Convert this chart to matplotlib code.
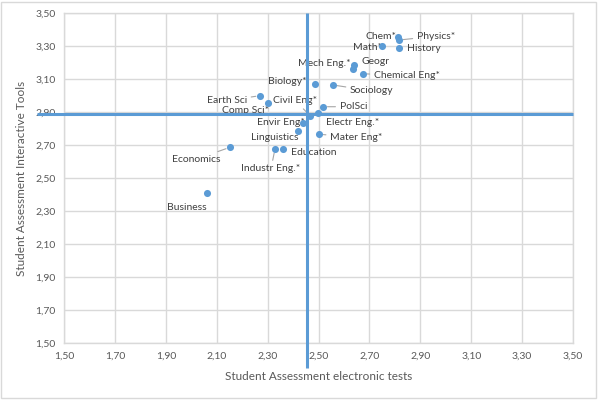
import matplotlib
matplotlib.use("Agg")
import matplotlib.pyplot as plt
from matplotlib.patches import Rectangle

# ---- data ----
subjects = ["Chem*", "Physics*", "Math*", "History", "Mech Eng.*", "Geogr",
            "Chemical Eng*", "Biology*", "Sociology", "Earth Sci", "Civil Eng*",
            "Comp Sci*", "PolSci", "Envir Eng*", "Electr Eng.*", "Linguistics",
            "Mater Eng*", "Education", "Industr Eng.*", "Economics", "Business"]
electronic_tests = [2.814, 2.816, 2.748, 2.815, 2.634, 2.639,
                    2.674, 2.487, 2.556, 2.270, 2.467,
                    2.302, 2.519, 2.440, 2.499, 2.421,
                    2.503, 2.359, 2.329, 2.152, 2.063]
interactive_tools = [3.353, 3.336, 3.300, 3.286, 3.161, 3.185,
                     3.132, 3.068, 3.064, 2.999, 2.878,
                     2.953, 2.932, 2.832, 2.891, 2.785,
                     2.765, 2.676, 2.676, 2.686, 2.411]
mean_electronic = 2.456
mean_interactive = 2.890
tick_values = [1.50, 1.70, 1.90, 2.10, 2.30, 2.50, 2.70, 2.90, 3.10, 3.30, 3.50]
tick_labels = ["1,50", "1,70", "1,90", "2,10", "2,30", "2,50",
               "2,70", "2,90", "3,10", "3,30", "3,50"]

# ---- label layout (pixel offsets from the point, image y downward) ----
label_offsets = {
    "Chem*": (-17, -1, False), "Physics*": (37, -4, True), "Math*": (-14, 1, False),
    "History": (25, 0, False), "Mech Eng.*": (-28, -5, False), "Geogr": (22, -3, False),
    "Chemical Eng*": (44, 2, True), "Biology*": (-28, -3, False), "Sociology": (39, 6, True),
    "Earth Sci": (-33, 5, True), "Civil Eng*": (-15, -15, True), "Comp Sci*": (-23, 7, False),
    "PolSci": (30, 0, True), "Envir Eng*": (-22, -1, False), "Electr Eng.*": (34, 9, True),
    "Linguistics": (-24, 7, False), "Mater Eng*": (37, 3, True), "Education": (31, 4, False),
    "Industr Eng.*": (-4, 20, True), "Economics": (-34, 12, True), "Business": (-20, 15, False),
}

blue = "#5B9BD5"
grid_c = "#D9D9D9"
text_c = "#595959"
label_c = "#404040"

plt.rcParams["font.family"] = ["Lato", "DejaVu Sans"]

fig = plt.figure(figsize=(5.98, 4.0), dpi=100)
fig.patches.append(Rectangle((0.002, 0.004), 0.994, 0.992, transform=fig.transFigure,
                             fill=False, edgecolor=grid_c, lw=1.0))
ax = fig.add_axes([64 / 598, 57 / 400, 509 / 598, 330 / 400])
ax.set_xlim(1.5, 3.5)
ax.set_ylim(1.5, 3.5)
ax.set_xticks(tick_values)
ax.set_xticklabels(tick_labels)
ax.set_yticks(tick_values)
ax.set_yticklabels(tick_labels)
ax.grid(True, color=grid_c, lw=1.0, zorder=0)
ax.set_axisbelow(True)
for s in ax.spines.values():
    s.set_color(grid_c)
    s.set_linewidth(1.0)
ax.tick_params(length=0, labelsize=7.5, labelcolor=text_c, pad=6)
ax.set_xlabel("Student Assessment electronic tests", fontsize=8.5, color=text_c, labelpad=8)
ax.set_ylabel("Student Assessment Interactive Tools", fontsize=8.5, color=text_c, labelpad=6)

# mean lines (extend beyond the plot area like the reference)
ax.plot([1.395, 3.5], [mean_interactive, mean_interactive], color=blue, lw=2.2,
        clip_on=False, zorder=3, solid_capstyle="butt")
ax.plot([mean_electronic, mean_electronic], [3.5, 1.348], color=blue, lw=2.2,
        clip_on=False, zorder=3, solid_capstyle="butt")

ax.scatter(electronic_tests, interactive_tools, s=26, color=blue, zorder=4, linewidths=0)

for name, x, y in zip(subjects, electronic_tests, interactive_tools):
    dx, dy, leader = label_offsets[name]
    ap = dict(arrowstyle="-", color="#A6A6A6", lw=0.8, shrinkA=1, shrinkB=3) if leader else None
    ax.annotate(name, (x, y), xytext=(dx, -dy), textcoords="offset pixels",
                ha="center", va="center", fontsize=7.5, color=label_c,
                arrowprops=ap, zorder=2)

fig.savefig("out.png", dpi=100)
